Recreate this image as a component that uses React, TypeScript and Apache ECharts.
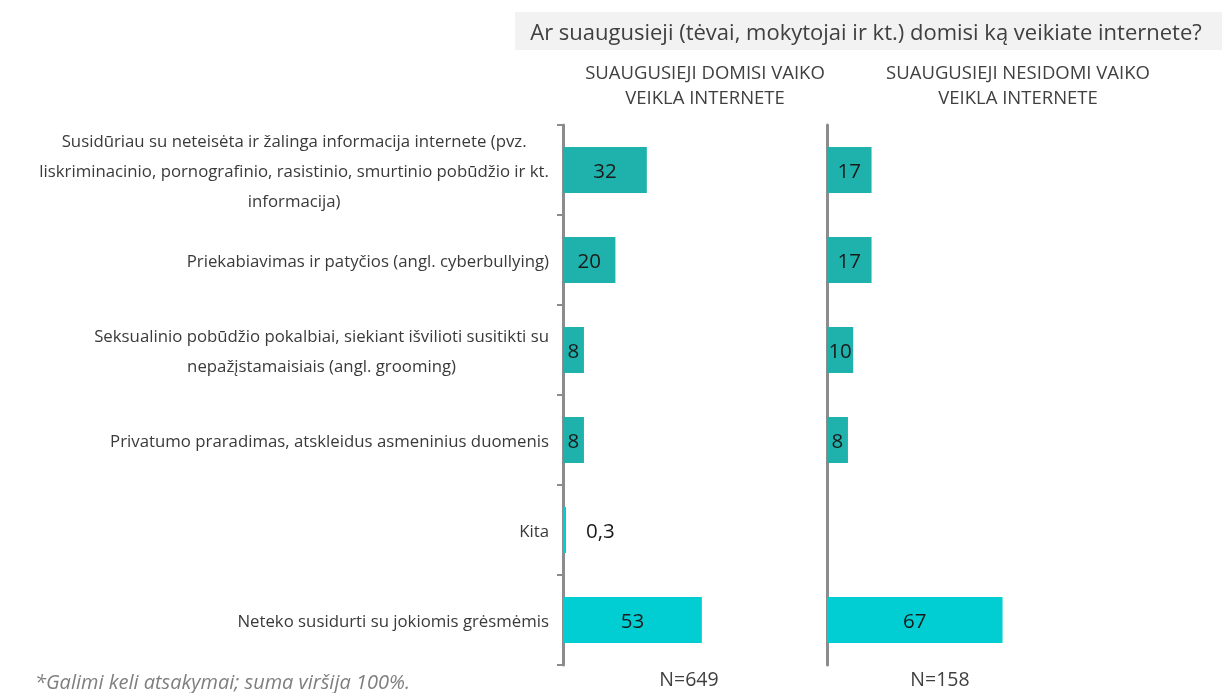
import React, { useEffect, useRef } from "react";
import * as echarts from "echarts";

const categories = [
  "Susidūriau su neteisėta ir žalinga informacija internete (pvz.\nliskriminacinio, pornografinio, rasistinio, smurtinio pobūdžio ir kt.\ninformacija)",
  "Priekabiavimas ir patyčios (angl. cyberbullying)",
  "Seksualinio pobūdžio pokalbiai, siekiant išvilioti susitikti su\nnepažįstamaisiais (angl. grooming)",
  "Privatumo praradimas, atskleidus asmeninius duomenis",
  "Kita",
  "Neteko susidurti su jokiomis grėsmėmis",
];
const interested = [32, 20, 8, 8, 0.3, 53];
const notInterested: (number | null)[] = [17, 17, 10, 8, null, 67];
const TEAL = "#1FB2AC";
const CYAN = "#00CED3";
const barColors = [TEAL, TEAL, TEAL, TEAL, CYAN, CYAN];
const columnTitles = [
  "SUAUGUSIEJI DOMISI VAIKO\nVEIKLA INTERNETE",
  "SUAUGUSIEJI NESIDOMI VAIKO\nVEIKLA INTERNETE",
];
const sampleSizes = ["N=649", "N=158"];
const question = "Ar suaugusieji (tėvai, mokytojai ir kt.) domisi ką veikiate internete?";
const footnote = "*Galimi keli atsakymai; suma viršija 100%.";

const FONT = "'Open Sans', 'Noto Sans', sans-serif";
const AXIS = "#8C8C8C";

export default function App() {
  const ref = useRef<HTMLDivElement>(null);
  useEffect(() => {
    if (!ref.current) return;
    const chart = echarts.init(ref.current, null, { renderer: "svg" });
    const fmt = (v: number) => String(v).replace(".", ",");
    const mkData = (arr: (number | null)[]) =>
      arr.map((v, i) => {
        if (v === null) return "-";
        const small = v < 1;
        return {
          value: v,
          itemStyle: { color: barColors[i] },
          label: small ? { position: "right", distance: 20 } : undefined,
        };
      });
    const grids = [
      { left: 563, top: 125, width: 262, height: 540 },
      { left: 827, top: 125, width: 262, height: 540 },
    ];
    chart.setOption({
      animation: false,
      grid: grids,
      xAxis: grids.map((_, i) => ({
        type: "value",
        gridIndex: i,
        min: 0,
        max: 100,
        show: false,
      })),
      yAxis: grids.map((_, i) => ({
        type: "category",
        gridIndex: i,
        data: categories,
        inverse: true,
        axisLine: { show: true, lineStyle: { color: AXIS, width: 3 } },
        axisTick: {
          show: i === 0,
          length: 6,
          lineStyle: { color: AXIS, width: 2 },
        },
        axisLabel: {
          show: i === 0,
          margin: 14,
          fontFamily: FONT,
          fontSize: 16.8,
          color: "#3A3A3A",
          formatter: (v: string) =>
            v
              .split("\n")
              .map((l) => `{c|${l}}`)
              .join("\n"),
          rich: {
            c: {
              align: "center",
              fontFamily: FONT,
              fontSize: 16.8,
              lineHeight: 30,
              color: "#3A3A3A",
            },
          },
        },
      })),
      series: [interested, notInterested].map((arr, i) => ({
        type: "bar",
        xAxisIndex: i,
        yAxisIndex: i,
        barWidth: 46,
        barMinHeight: 3,
        data: mkData(arr),
        label: {
          show: true,
          position: "inside",
          fontFamily: FONT,
          fontSize: 20.5,
          color: "#1a1a1a",
          formatter: (p: any) => fmt(p.value),
        },
      })),
      graphic: [
        {
          type: "rect",
          shape: { x: 515, y: 12, width: 707, height: 38 },
          style: { fill: "#F2F2F2" },
        },
        {
          type: "text",
          x: 866,
          y: 31,
          style: {
            text: question,
            fontFamily: FONT,
            fontSize: 22,
            fill: "#404040",
            align: "center",
            verticalAlign: "middle",
          },
        },
        ...columnTitles.map((t, i) => ({
          type: "text",
          x: i === 0 ? 705 : 1018,
          y: 84,
          style: {
            text: t,
            fontFamily: FONT,
            fontSize: 18.5,
            lineHeight: 25,
            fill: "#404040",
            align: "center",
            verticalAlign: "middle",
          },
        })),
        ...sampleSizes.map((t, i) => ({
          type: "text",
          x: i === 0 ? 689 : 940,
          y: 678,
          style: {
            text: t,
            fontFamily: FONT,
            fontSize: 19.5,
            fill: "#404040",
            align: "center",
            verticalAlign: "middle",
          },
        })),
        {
          type: "text",
          x: 35,
          y: 681,
          style: {
            text: footnote,
            fontFamily: FONT,
            fontSize: 20,
            fontStyle: "italic",
            fill: "#7F7F7F",
            align: "left",
            verticalAlign: "middle",
          },
        },
      ],
    });
    return () => chart.dispose();
  }, []);
  return (
    <div
      ref={ref}
      style={{ position: "fixed", left: 0, top: 0, width: 1222, height: 693 }}
    />
  );
}
